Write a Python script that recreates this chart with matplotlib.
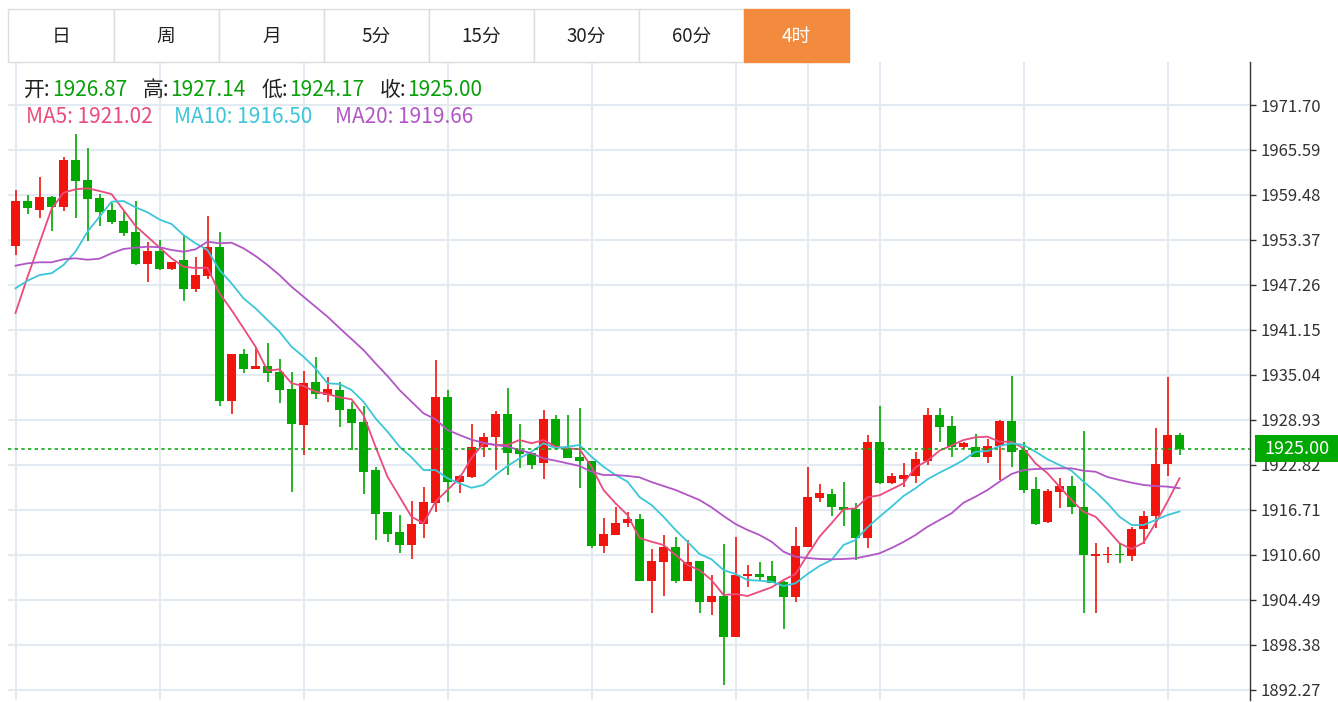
import numpy as np
import matplotlib
matplotlib.use('Agg')
import matplotlib.pyplot as plt
import matplotlib.transforms as mtransforms
from matplotlib.patches import Rectangle

plt.rcParams['font.family'] = ['Noto Sans CJK SC', 'DejaVu Sans']

# 4h candles
opens = [1952.55, 1958.62, 1957.40, 1959.25, 1957.81, 1964.19, 1961.47, 1959.03, 1957.40, 1955.95,
         1954.45, 1950.11, 1951.87, 1949.39, 1950.65, 1946.71, 1948.52, 1952.46, 1931.55, 1937.89,
         1935.89, 1936.26, 1935.40, 1933.09, 1928.29, 1934.04, 1932.32, 1933.00, 1930.38, 1928.65,
         1922.09, 1916.39, 1913.67, 1911.91, 1914.76, 1917.61, 1932.09, 1920.55, 1921.14, 1925.22,
         1926.57, 1929.74, 1924.85, 1924.40, 1923.04, 1929.02, 1924.94, 1923.94, 1923.40, 1911.85,
         1913.31, 1914.89, 1915.48, 1907.06, 1909.68, 1911.64, 1907.10, 1909.77, 1904.21, 1905.02,
         1899.41, 1907.78, 1908.01, 1907.74, 1906.97, 1904.93, 1911.72, 1918.29, 1918.83, 1917.15,
         1916.80, 1912.86, 1925.90, 1920.33, 1920.95, 1921.32, 1923.40, 1929.60, 1928.15, 1925.30,
         1925.30, 1923.94, 1925.39, 1928.79, 1924.85, 1919.55, 1915.03, 1919.19, 1919.96, 1917.15,
         1910.50, 1910.55, 1910.64, 1910.46, 1914.08, 1915.89, 1922.95, 1926.87]
highs = [1960.16, 1959.48, 1961.88, 1959.40, 1964.60, 1967.76, 1965.86, 1959.61, 1958.43, 1957.35,
         1958.62, 1953.14, 1953.37, 1950.40, 1954.05, 1951.10, 1956.67, 1954.41, 1937.93, 1938.52,
         1938.88, 1939.34, 1937.25, 1935.48, 1935.62, 1937.52, 1934.80, 1934.04, 1931.41, 1930.83,
         1922.58, 1916.40, 1916.02, 1917.92, 1919.87, 1937.07, 1933.00, 1921.40, 1928.38, 1927.12,
         1930.15, 1933.27, 1928.38, 1924.40, 1930.28, 1929.60, 1929.60, 1930.51, 1923.40, 1915.57,
         1917.07, 1916.43, 1916.16, 1911.37, 1913.31, 1912.99, 1912.63, 1909.80, 1907.92, 1912.04,
         1912.99, 1909.23, 1909.68, 1909.82, 1907.00, 1914.35, 1922.58, 1920.23, 1919.51, 1920.46,
         1917.61, 1926.89, 1930.83, 1921.77, 1923.04, 1924.54, 1930.51, 1930.60, 1929.47, 1925.98,
         1926.98, 1926.30, 1928.92, 1934.90, 1925.98, 1921.14, 1919.55, 1921.01, 1921.32, 1927.47,
         1912.18, 1911.72, 1912.26, 1914.44, 1916.61, 1927.80, 1934.80, 1927.14]
lows = [1951.33, 1956.86, 1956.40, 1954.63, 1957.35, 1956.40, 1953.23, 1955.31, 1955.54, 1953.91,
        1950.00, 1947.71, 1949.30, 1949.30, 1945.08, 1946.35, 1948.11, 1930.87, 1929.74, 1935.35,
        1935.89, 1934.13, 1931.19, 1919.11, 1924.17, 1931.82, 1931.41, 1927.93, 1924.85, 1918.87,
        1912.63, 1912.32, 1910.82, 1910.01, 1912.86, 1916.47, 1917.83, 1918.97, 1921.10, 1923.94,
        1922.13, 1921.45, 1922.45, 1922.23, 1920.87, 1925.39, 1923.81, 1919.65, 1911.50, 1910.82,
        1913.31, 1914.39, 1907.00, 1902.76, 1905.06, 1906.75, 1907.10, 1902.76, 1902.44, 1892.90,
        1899.40, 1906.20, 1907.06, 1906.80, 1900.50, 1904.25, 1911.70, 1917.83, 1915.93, 1914.53,
        1909.91, 1911.50, 1920.30, 1920.30, 1919.78, 1920.41, 1922.81, 1925.98, 1923.94, 1924.94,
        1923.86, 1923.13, 1920.78, 1922.58, 1918.97, 1914.66, 1915.00, 1916.93, 1916.16, 1902.67,
        1902.67, 1909.55, 1909.55, 1909.82, 1912.08, 1914.22, 1921.32, 1924.17]
closes = [1958.62, 1957.67, 1959.21, 1957.81, 1964.19, 1961.34, 1958.94, 1957.13, 1955.81, 1954.36,
          1950.11, 1951.87, 1949.39, 1950.34, 1946.76, 1948.66, 1952.46, 1931.50, 1937.93, 1935.89,
          1936.26, 1935.27, 1933.00, 1928.38, 1933.99, 1932.45, 1933.09, 1930.28, 1928.48, 1921.90,
          1916.20, 1913.44, 1911.91, 1914.80, 1917.75, 1932.09, 1920.55, 1921.32, 1925.30, 1926.66,
          1929.74, 1924.48, 1924.31, 1922.81, 1929.02, 1925.39, 1923.81, 1923.40, 1911.85, 1913.44,
          1914.98, 1915.48, 1907.06, 1909.82, 1911.64, 1907.10, 1909.68, 1904.21, 1905.02, 1899.41,
          1907.83, 1908.05, 1907.64, 1906.83, 1904.93, 1911.81, 1918.51, 1918.97, 1917.07, 1916.70,
          1912.86, 1925.90, 1920.33, 1921.32, 1921.45, 1923.59, 1929.60, 1927.93, 1925.22, 1925.76,
          1923.94, 1925.39, 1928.79, 1924.62, 1919.42, 1914.80, 1919.32, 1920.00, 1917.07, 1910.59,
          1910.73, 1910.64, 1910.55, 1914.08, 1915.89, 1922.95, 1926.85, 1925.00]

ma5 = [1943.45, 1948.34, 1952.96, 1957.58, 1959.79, 1960.25, 1960.39, 1960.02, 1959.61, 1957.44,
       1955.27, 1953.82, 1952.35, 1950.88, 1949.74, 1949.57, 1949.61, 1946.13, 1943.86, 1941.38,
       1938.88, 1935.62, 1935.81, 1933.91, 1933.54, 1932.77, 1932.45, 1932.01, 1931.74, 1929.60,
       1925.30, 1921.22, 1918.51, 1915.79, 1914.90, 1917.83, 1919.42, 1921.01, 1923.76, 1925.76,
       1925.53, 1925.53, 1926.21, 1925.76, 1926.21, 1925.30, 1925.08, 1924.95, 1922.58, 1919.42,
       1917.61, 1916.02, 1912.90, 1912.40, 1911.95, 1910.59, 1909.23, 1908.55, 1907.20, 1905.16,
       1905.29, 1905.02, 1905.61, 1906.20, 1907.20, 1908.01, 1910.59, 1913.08, 1914.90, 1916.80,
       1916.93, 1918.43, 1918.70, 1919.51, 1920.33, 1922.50, 1923.40, 1924.76, 1925.46, 1926.21,
       1926.57, 1926.66, 1925.98, 1925.98, 1925.08, 1923.04, 1921.69, 1919.87, 1918.06, 1916.47,
       1915.79, 1914.05, 1912.18, 1911.41, 1912.26, 1914.90, 1917.83, 1921.02]
ma10 = [1946.81, 1947.84, 1948.61, 1948.85, 1949.97, 1951.78, 1954.50, 1956.53, 1958.57, 1958.66,
        1957.81, 1957.13, 1956.15, 1955.54, 1954.05, 1952.92, 1952.01, 1949.29, 1947.49, 1945.45,
        1944.09, 1942.50, 1940.92, 1938.88, 1937.52, 1935.94, 1933.91, 1933.81, 1933.00, 1931.41,
        1929.15, 1927.34, 1925.30, 1923.86, 1922.13, 1922.13, 1921.01, 1920.33, 1919.72, 1920.10,
        1921.45, 1922.68, 1923.72, 1924.62, 1925.76, 1925.08, 1925.30, 1925.53, 1923.94, 1922.58,
        1921.45, 1920.55, 1918.47, 1917.38, 1915.79, 1913.99, 1912.40, 1910.73, 1910.01, 1908.55,
        1908.01, 1907.20, 1907.10, 1906.97, 1906.38, 1906.75, 1908.01, 1909.10, 1909.91, 1911.95,
        1912.63, 1914.35, 1915.79, 1917.15, 1918.60, 1919.65, 1920.87, 1921.77, 1922.58, 1923.49,
        1924.62, 1924.71, 1925.39, 1925.76, 1925.53, 1924.62, 1923.59, 1922.81, 1922.04, 1920.55,
        1919.19, 1917.61, 1915.79, 1914.66, 1914.66, 1915.34, 1916.02, 1916.50]
ma20 = [1949.88, 1950.20, 1950.34, 1950.34, 1950.75, 1950.88, 1950.69, 1950.83, 1951.56, 1952.15,
        1952.32, 1952.46, 1952.39, 1952.01, 1951.78, 1952.10, 1953.14, 1952.92, 1953.00, 1952.24,
        1951.20, 1949.97, 1948.61, 1947.03, 1945.67, 1944.31, 1942.95, 1941.42, 1939.92, 1938.43,
        1936.62, 1934.90, 1933.00, 1931.41, 1929.83, 1929.02, 1927.57, 1926.89, 1926.25, 1925.84,
        1925.53, 1925.30, 1924.85, 1924.40, 1923.72, 1923.40, 1923.04, 1922.68, 1921.90, 1921.45,
        1921.45, 1921.32, 1921.14, 1920.50, 1919.96, 1919.42, 1918.74, 1918.06, 1917.07, 1915.89,
        1914.80, 1913.99, 1913.31, 1912.40, 1911.04, 1910.36, 1910.18, 1910.05, 1910.01, 1910.05,
        1910.14, 1910.46, 1910.82, 1911.54, 1912.36, 1913.31, 1914.43, 1915.34, 1916.25, 1917.69,
        1918.51, 1919.42, 1920.55, 1921.59, 1922.13, 1922.27, 1922.31, 1922.36, 1922.36, 1922.04,
        1921.90, 1921.18, 1920.78, 1920.41, 1920.10, 1919.96, 1919.87, 1919.66]

yticks = [1892.27, 1898.38, 1904.49, 1910.60, 1916.71, 1922.82, 1928.93,
          1935.04, 1941.15, 1947.26, 1953.37, 1959.48, 1965.59, 1971.70]
day_lines = [0, 12, 24, 36, 48, 60, 66, 72, 84, 96]
tabs = ['日', '周', '月', '5分', '15分', '30分', '60分', '4时']
active_tab = '4时'

UP = '#f2150d'
DOWN = '#00a800'
C_MA5 = '#ea4a7c'
C_MA10 = '#3cc6da'
C_MA20 = '#b256c6'

opens = np.array(opens)
highs = np.array(highs)
lows = np.array(lows)
closes = np.array(closes)

W, H = 1338, 702
fig = plt.figure(figsize=(W / 100, H / 100), dpi=100, facecolor='white')
ax = fig.add_axes([8 / W, 2 / H, 1242 / W, 638 / H], zorder=1)
ax.set_facecolor('none')
ax.set_xlim(-0.625, 102.875)
ax.set_ylim(1890.90, 1977.54)

x = np.arange(len(closes))
colors = np.where(closes >= opens, UP, DOWN)
ax.vlines(x, lows, highs, colors=colors, lw=1.2, zorder=3)
body_low = np.minimum(opens, closes)
body_h = np.maximum(np.abs(closes - opens), 0.18)
ax.bar(x, body_h, bottom=body_low, width=0.75, color=colors, lw=0, zorder=4)

ax.plot(x, ma5, color=C_MA5, lw=1.3, zorder=5)
ax.plot(x, ma10, color=C_MA10, lw=1.3, zorder=5)
ax.plot(x, ma20, color=C_MA20, lw=1.3, zorder=5)

# last price line + tag on the right axis
last = closes[-1]
ax.axhline(last, color='#14aa14', ls=(0, (2, 2)), lw=1.2, zorder=6)
trans = mtransforms.blended_transform_factory(ax.transAxes, ax.transData)
ax.add_patch(Rectangle((1.004, last - 1.83), 0.08, 3.66, transform=trans,
                       fc='#00a800', ec='none', clip_on=False, zorder=9))
ax.text(1.0113, last, f'{last:.2f}', transform=trans, ha='left', va='center',
        color='white', fontsize=13, clip_on=False, zorder=10)

# grid / axes
ax.set_yticks(yticks)
ax.set_yticklabels([f'{v:.2f}' for v in yticks])
ax.set_xticks(day_lines)
ax.tick_params(axis='x', length=0, labelbottom=False)
ax.yaxis.tick_right()
ax.tick_params(axis='y', direction='out', length=4.5, width=1, color='#333333',
               labelsize=12, labelcolor='#333333', pad=3)
ax.grid(True, color='#e3eaf2', lw=1.5, zorder=0)
ax.set_axisbelow(True)
for s in ['left', 'top', 'bottom']:
    ax.spines[s].set_visible(False)
ax.spines['right'].set_color('#333333')
ax.spines['right'].set_linewidth(1)

# overlay in pixel coords for tabs and header text
ov = fig.add_axes([0, 0, 1, 1], zorder=2)
ov.set_facecolor('none')
ov.set_xlim(0, W)
ov.set_ylim(H, 0)
ov.axis('off')

tab_edges = [8, 113.5, 219, 324, 428.5, 534, 638.5, 744, 848.5]
for i, t in enumerate(tabs):
    x0, x1 = tab_edges[i], tab_edges[i + 1]
    active = t == active_tab
    ov.add_patch(Rectangle((x0, 9), x1 - x0, 53, fc='#f28b3e' if active else 'white',
                           ec='#f28b3e' if active else '#dddddd', lw=1))
    ov.text((x0 + x1) / 2, 36.5, t, ha='center', va='center', fontsize=13.5,
            color='white' if active else '#222222')

# OHLC header
ohlc = [('开:', opens[-1], 24, 52), ('高:', highs[-1], 143, 170),
        ('低:', lows[-1], 262, 289), ('收:', closes[-1], 380, 407)]
for lab, val, px, vx in ohlc:
    ov.text(px, 96, lab, ha='left', va='baseline', fontsize=15, color='#222222')
    ov.text(vx, 96, f'{val:.2f}', ha='left', va='baseline', fontsize=15, color='#0aa00a')

ma_info = [('MA5', ma5[-1], C_MA5, 26), ('MA10', ma10[-1], C_MA10, 174), ('MA20', ma20[-1], C_MA20, 335)]
for lab, val, col, px in ma_info:
    ov.text(px, 123, f'{lab}: {val:.2f}', ha='left', va='baseline', fontsize=15, color=col)

plt.savefig('out.png', dpi=100)
